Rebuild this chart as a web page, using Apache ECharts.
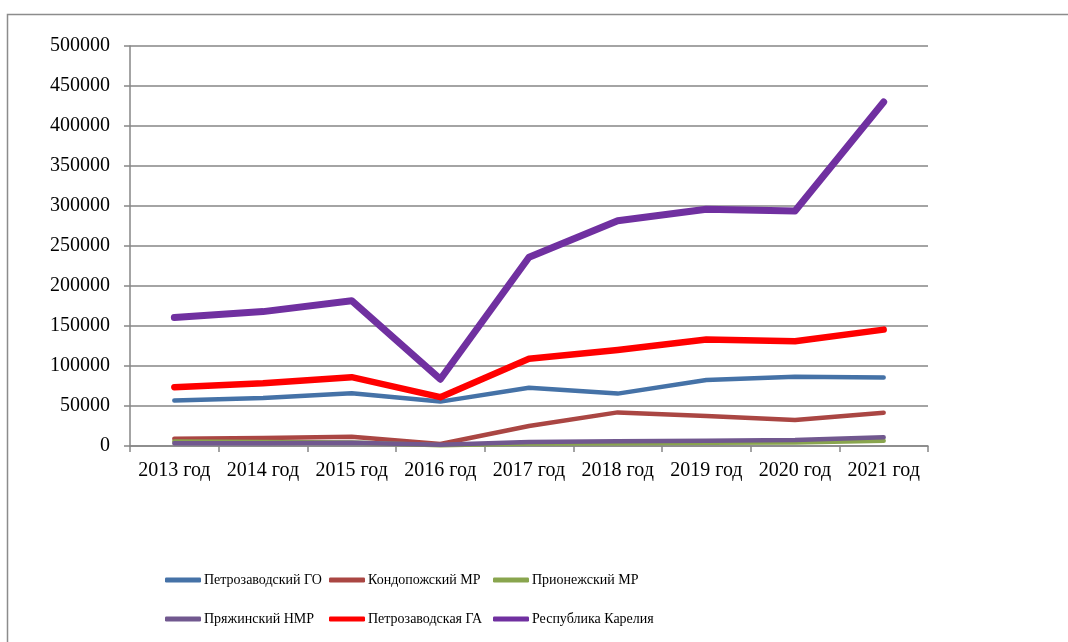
<!DOCTYPE html>
<html>
<head>
<meta charset="utf-8">
<style>
    html, body { margin: 0; padding: 0; background: #fff; }
    #main { width: 1068px; height: 642px; }
</style>
<script src="https://cdn.jsdelivr.net/npm/echarts@6/dist/echarts.min.js"></script>
</head>
<body>
<div id="main"></div>
<script>
// категории и данные
var years = ['2013 год','2014 год','2015 год','2016 год','2017 год','2018 год','2019 год','2020 год','2021 год'];
var petrGO     = [56800, 60000, 66000, 55500, 72700, 65500, 82500, 86500, 85500];
var kondopoga  = [9000, 10000, 11500, 2500, 25000, 42000, 37500, 32500, 41500];
var prionezh   = [5500, 5000, 4500, 1000, 3000, 3500, 4000, 4500, 6500];
var pryazha    = [3500, 3500, 4000, 1500, 5000, 6000, 6500, 7500, 11000];
var petrGA     = [73500, 78500, 86000, 61000, 109000, 120000, 133000, 131000, 145500];
var karelia    = [160500, 168000, 181600, 83500, 236000, 281600, 296000, 293800, 430000];

var names = ['Петрозаводский ГО','Кондопожский МР','Прионежский МР','Пряжинский НМР','Петрозаводская ГА','Республика Карелия'];
var colors = ['#4572A7','#AA4643','#89A54E','#71588F','#FF0000','#7030A0'];
var widths = [4.5, 4.5, 4.5, 4.5, 6.5, 7];
var values = [petrGO, kondopoga, prionezh, pryazha, petrGA, karelia];

var font = '"Liberation Serif", "Times New Roman", serif';
var myChart = echarts.init(document.getElementById('main'));

var series = [];
for (var i = 0; i < names.length; i++) {
    series.push({
        name: names[i],
        type: 'line',
        data: values[i],
        showSymbol: false,
        symbol: 'none',
        color: colors[i],
        lineStyle: { color: colors[i], width: widths[i], cap: 'round', join: 'round' },
        animation: false
    });
}

// легенда: 3 колонки, 2 строки
var legendPos = [[160, 568], [324, 568], [488, 568], [160, 607], [324, 607], [488, 607]];
var legends = [];
for (var j = 0; j < names.length; j++) {
    legends.push({
        data: [names[j]],
        left: legendPos[j][0],
        top: legendPos[j][1],
        icon: 'roundRect',
        itemWidth: 36,
        itemHeight: 5,
        textStyle: { fontFamily: font, fontSize: 14, color: '#000', padding: [0, 0, 0, -2] }
    });
}

var option = {
    backgroundColor: '#fff',
    animation: false,
    graphic: [{
        type: 'rect',
        shape: { x: 7.5, y: 14.5, width: 1200, height: 800 },
        style: { fill: 'none', stroke: '#8c8c8c', lineWidth: 1.5 },
        silent: true
    }],
    grid: { left: 130, right: 140, top: 46, bottom: 196, containLabel: false },
    legend: legends,
    xAxis: {
        type: 'category',
        data: years,
        boundaryGap: true,
        axisLine: { lineStyle: { color: '#868686', width: 1.5 } },
        axisTick: { show: true, length: 6, interval: 0, alignWithLabel: false, lineStyle: { color: '#868686', width: 1.5 } },
        axisLabel: { interval: 0, margin: 15, color: '#000', fontFamily: font, fontSize: 20 }
    },
    yAxis: {
        type: 'value',
        min: 0,
        max: 500000,
        interval: 50000,
        axisLine: { show: true, lineStyle: { color: '#868686', width: 1.5 } },
        axisTick: { show: true, length: 6, lineStyle: { color: '#868686', width: 1.5 } },
        splitLine: { lineStyle: { color: '#868686', width: 1.5 } },
        axisLabel: { margin: 20, color: '#000', fontFamily: font, fontSize: 20,
            formatter: function (v) { return String(v); } }
    },
    series: series
};
myChart.setOption(option);
</script>
</body>
</html>
